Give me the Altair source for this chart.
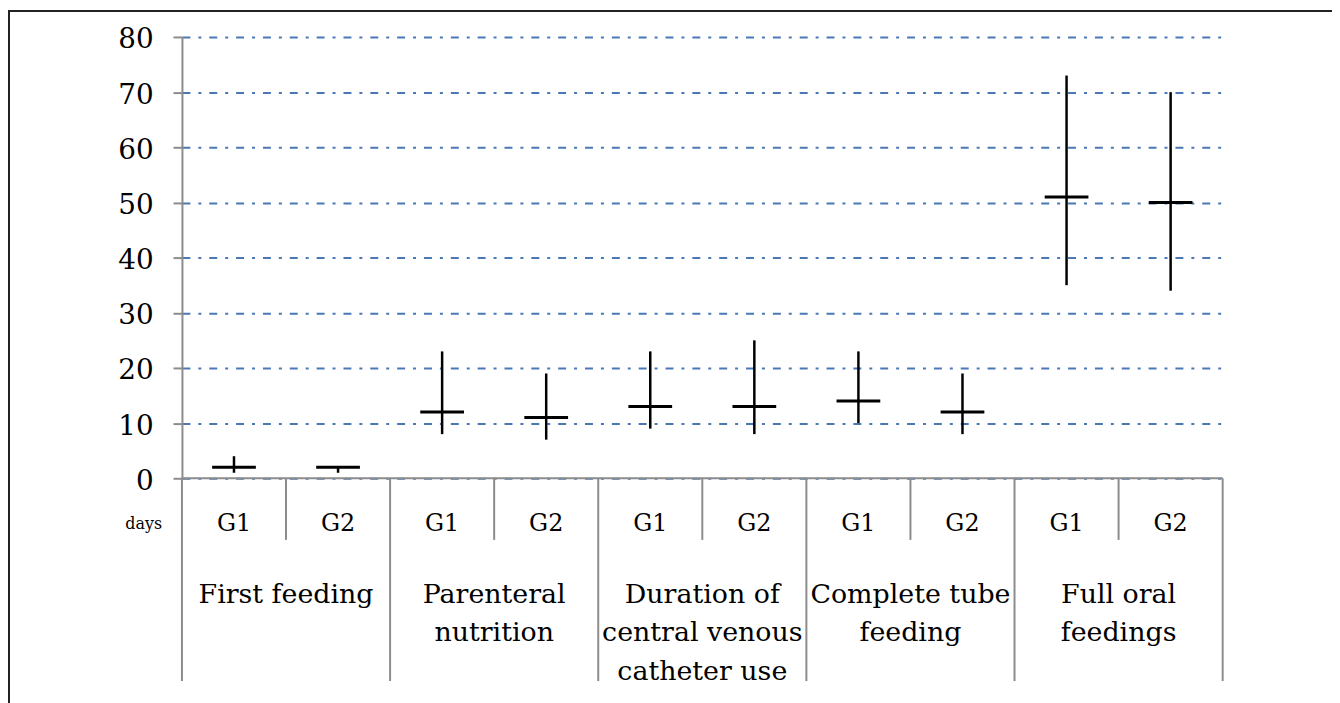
import altair as alt
import pandas as pd

# ---- data ----
categories = [
    "First feeding",
    "Parenteral\nnutrition",
    "Duration of\ncentral venous\ncatheter use",
    "Complete tube\nfeeding",
    "Full oral\nfeedings",
]
groups = ["G1", "G2"]
center_vals = [2, 2, 12, 11, 13, 13, 14, 12, 51, 50]
low_vals = [1, 1, 8, 7, 9, 8, 10, 8, 35, 34]
high_vals = [4, 2, 23, 19, 23, 25, 23, 19, 73, 70]
y_ticks = [0, 10, 20, 30, 40, 50, 60, 70, 80]
unit_label = ["days"]

# ---- table for the library ----
rows = []
for i, c in enumerate(categories):
    for j, g in enumerate(groups):
        k = i * len(groups) + j
        rows.append({"key": f"{i}-{g}", "cat": c, "group": g,
                     "center": center_vals[k], "low": low_vals[k], "high": high_vals[k]})
df = pd.DataFrame(rows)
keys = list(df["key"])

W, H = 1047, 444
GRAY = "#8c8c8c"
FONT = "DejaVu Serif"

xscale = alt.Scale(type="band", domain=keys, paddingInner=0, paddingOuter=0)
yscale = alt.Scale(domain=[0, 80], nice=False, zero=True)
yaxis = alt.Axis(values=y_ticks, grid=True, gridColor="#4a78b4",
                 gridDash=[8, 8, 3, 8], gridWidth=2,
                 domainColor=GRAY, domainWidth=2,
                 tickColor=GRAY, tickWidth=2, tickSize=9,
                 labelFont=FONT, labelFontSize=28, labelColor="black",
                 labelPadding=20, labelOffset=3)


def X(band=0.5):
    return alt.X("key:N", scale=xscale, axis=None, bandPosition=band)


base = alt.Chart(df)
one = alt.Chart(pd.DataFrame({"label": unit_label}))

bars = base.mark_rule(color="black", strokeWidth=2.5, opacity=1).encode(
    x=X(),
    y=alt.Y("low:Q", title=None, scale=yscale, axis=yaxis),
    y2="high:Q",
)

centers = base.mark_tick(color="black", size=44, thickness=3, opacity=1).encode(
    x=X(), y=alt.Y("center:Q", title=None, scale=yscale, axis=yaxis)
)

top_line = one.mark_rule(color=GRAY, strokeWidth=2).encode(
    y=alt.value(H), x=alt.value(0), x2=alt.value(W)
)

grp_sep = alt.Chart(df[df["group"] == "G2"]).mark_rule(color=GRAY, strokeWidth=2).encode(
    x=X(0), y=alt.value(H), y2=alt.value(H + 62)
)

cat_sep = alt.Chart(df[df["group"] == "G1"]).mark_rule(color=GRAY, strokeWidth=2).encode(
    x=X(0), y=alt.value(H), y2=alt.value(H + 204)
)

last_sep = alt.Chart(df.tail(1)).mark_rule(color=GRAY, strokeWidth=2).encode(
    x=X(1), y=alt.value(H), y2=alt.value(H + 204)
)

g_labels = base.mark_text(font=FONT, fontSize=24, color="black", baseline="middle").encode(
    x=X(), y=alt.value(H + 46), text="group:N"
)

cat_labels = alt.Chart(df[df["group"] == "G2"]).mark_text(
    font=FONT, fontSize=27, color="black", baseline="alphabetic",
    lineBreak="\n", lineHeight=39, align="center"
).encode(x=X(0), y=alt.value(H + 125), text="cat:N")

days = one.mark_text(font=FONT, fontSize=16, color="black", align="right",
                     baseline="middle").encode(
    x=alt.value(-20), y=alt.value(H + 46), text="label:N"
)

frame_left = one.mark_rule(color="#222222", strokeWidth=2).encode(
    x=alt.value(-174), y=alt.value(-27), y2=alt.value(H + 260)
)
frame_top = one.mark_rule(color="#222222", strokeWidth=2).encode(
    y=alt.value(-26), x=alt.value(-175), x2=alt.value(W + 140)
)

chart = alt.layer(
    bars, centers, top_line, grp_sep, cat_sep, last_sep,
    g_labels, cat_labels, days, frame_left, frame_top
).properties(
    width=W, height=H,
    padding={"left": 175, "top": 27, "right": 110, "bottom": 230},
    autosize=alt.AutoSizeParams(type="none"),
).configure_view(stroke=None)

chart.save("out.html", embed_options={"renderer": "svg", "actions": False})
